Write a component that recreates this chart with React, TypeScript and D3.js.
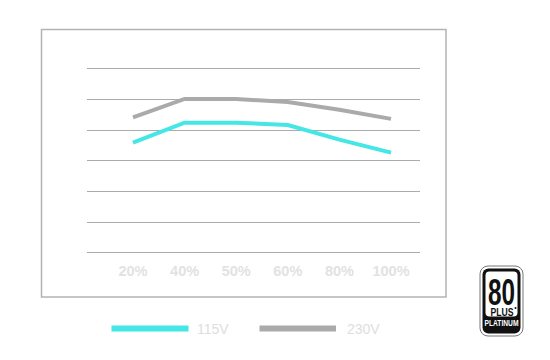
import React from "react";
import * as d3 from "d3";

const categories = ["20%", "40%", "50%", "60%", "80%", "100%"];
const series115 = [91.15, 92.45, 92.45, 92.3, 91.35, 90.5];
const series230 = [92.8, 94.0, 94.0, 93.8, 93.3, 92.7];
const gridValues = [84, 86, 88, 90, 92, 94, 96];
const legendLabels = ["115V", "230V"];
const colors = ["#44e6e6", "#aaaaaa"];

export default function App() {
  const x = d3.scalePoint<string>().domain(categories).range([133, 391]);
  const y = d3.scaleLinear().domain([84, 96]).range([252.3, 68.3]);
  const line = d3
    .line<number>()
    .x((_, i) => x(categories[i]) as number)
    .y((d) => y(d));
  const font = "'Liberation Sans', Arial, sans-serif";
  return (
    <svg
      width={550}
      height={360}
      style={{ position: "absolute", left: 0, top: 0, background: "#fff" }}
    >
      <rect x={41.5} y={29.5} width={404.5} height={267.5} fill="#fff" stroke="#b3b3b3" strokeWidth={1.5} />
      {gridValues.map((g) => (
        <line key={g} x1={87} x2={420} y1={Math.round(y(g)) + 0.5} y2={Math.round(y(g)) + 0.5} stroke="#ababab" strokeWidth={1} />
      ))}
      {categories.map((c) => (
        <text key={c} x={x(c)} y={276} textAnchor="middle" fontFamily={font} fontWeight="bold" fontSize={14.5} fill="#e2e2e2">
          {c}
        </text>
      ))}
      <path d={line(series230) || ""} fill="none" stroke={colors[1]} strokeWidth={4} />
      <path d={line(series115) || ""} fill="none" stroke={colors[0]} strokeWidth={4} />
      {/* legend */}
      <line x1={111.5} x2={188.5} y1={328.5} y2={328.5} stroke={colors[0]} strokeWidth={6} />
      <text x={197} y={334} fontFamily={font} fontSize={14} fill="#dedede">{legendLabels[0]}</text>
      <line x1={259.5} x2={336} y1={328.5} y2={328.5} stroke={colors[1]} strokeWidth={6} />
      <text x={347} y={334} fontFamily={font} fontSize={14} fill="#dedede">{legendLabels[1]}</text>
      {/* 80 PLUS Platinum badge */}
      <g>
        <rect x={480} y={266} width={43} height={70} rx={8} fill="#fff" stroke="#777" strokeWidth={1} />
        <rect x={482.5} y={268.5} width={38} height={65} rx={6} fill="#111" />
        <rect x={485.5} y={271.5} width={32} height={45} rx={4} fill="#fff" />
        <text x={501.5} y={304.5} textAnchor="middle" fontFamily={font} fontWeight="bold" fontSize={36} fill="#111" textLength={27} lengthAdjust="spacingAndGlyphs">80</text>
        <text x={490.5} y={315.5} fontFamily={font} fontWeight="bold" fontSize={10.5} fill="#111" textLength={23} lengthAdjust="spacingAndGlyphs">PLUS</text>
        <circle cx={515.5} cy={308} r={1} fill="#111" />
        <text x={501.5} y={326} textAnchor="middle" fontFamily={font} fontWeight="bold" fontSize={8.5} fill="#fff" textLength={34} lengthAdjust="spacingAndGlyphs">PLATINUM</text>
      </g>
    </svg>
  );
}
